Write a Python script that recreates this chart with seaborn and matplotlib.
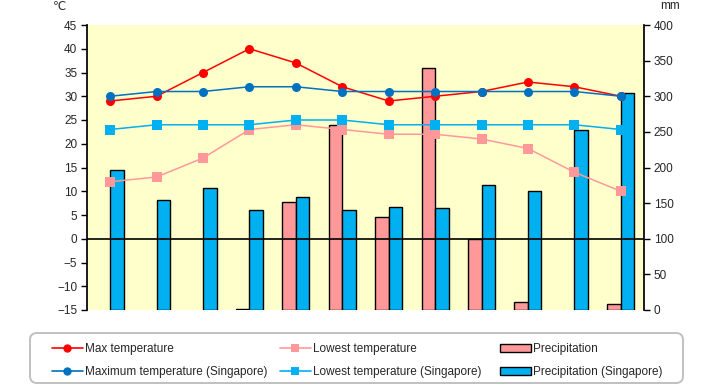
import matplotlib
matplotlib.use("Agg")
import matplotlib.pyplot as plt
import seaborn as sns
import pandas as pd
import numpy as np
from matplotlib.lines import Line2D
from matplotlib.patches import Patch, FancyBboxPatch
from matplotlib.transforms import IdentityTransform

months = ["Jan", "Feb", "Mar", "Apr", "May", "Jun", "Jul", "Aug", "Sep", "Oct", "Nov", "Dec"]
max_temp = [29, 30, 35, 40, 37, 32, 29, 30, 31, 33, 32, 30]
low_temp = [12, 13, 17, 23, 24, 23, 22, 22, 21, 19, 14, 10]
precip = [0, 0, 0, 1, 151, 259, 130, 339, 99, 11, 0, 8]
sg_max_temp = [30, 31, 31, 32, 32, 31, 31, 31, 31, 31, 31, 30]
sg_low_temp = [23, 24, 24, 24, 25, 25, 24, 24, 24, 24, 24, 23]
sg_precip = [197, 154, 171, 140, 158, 140, 144, 143, 176, 167, 252, 304]

sns.set_theme(style="white")
plt.rcParams["font.family"] = ["Liberation Sans", "DejaVu Sans"]
plt.rcParams["font.size"] = 8.5

fig = plt.figure(figsize=(7.2, 3.85), dpi=100)
ax_mm = fig.add_axes([87 / 720, 1 - 310 / 385, (644 - 87) / 720, (310 - 25) / 385])
ax_t = ax_mm.twinx()
ax_mm.yaxis.tick_right()
ax_mm.yaxis.set_label_position("right")
ax_t.yaxis.tick_left()
ax_t.yaxis.set_label_position("left")
ax_mm.set_zorder(0)
ax_t.set_zorder(1)
ax_t.patch.set_visible(False)
ax_mm.set_facecolor("#FFFFCC")

bar_df = pd.DataFrame({
    "month": months * 2,
    "value": precip + sg_precip,
    "series": ["Precipitation"] * 12 + ["Precipitation (Singapore)"] * 12,
})
sns.barplot(data=bar_df, x="month", y="value", hue="series", order=months,
            palette=["#FF9999", "#00B0F0"], width=0.58, edgecolor="black",
            linewidth=1.0, ax=ax_mm, legend=False, saturation=1)
for p in ax_mm.patches:
    if p.get_height() == 0:
        p.set_linewidth(0)

x = np.arange(12)
line_df = pd.DataFrame({
    "x": np.tile(x, 4),
    "value": max_temp + low_temp + sg_max_temp + sg_low_temp,
    "series": (["Max temperature"] * 12 + ["Lowest temperature"] * 12 +
               ["Maximum temperature (Singapore)"] * 12 + ["Lowest temperature (Singapore)"] * 12),
})
styles = {
    "Max temperature": ("#FF0000", "o"),
    "Lowest temperature": ("#FF9999", "s"),
    "Maximum temperature (Singapore)": ("#0070C0", "o"),
    "Lowest temperature (Singapore)": ("#00B0F0", "s"),
}
for name in ["Lowest temperature", "Lowest temperature (Singapore)", "Max temperature", "Maximum temperature (Singapore)"]:
    col, mk = styles[name]
    sub = line_df[line_df["series"] == name]
    sns.lineplot(data=sub, x="x", y="value", color=col, marker=mk, markersize=6.5,
                 markeredgewidth=0, linewidth=1.1, ax=ax_t, legend=False)

ax_t.axhline(0, color="black", linewidth=1.2, zorder=0.5)

ax_t.set_ylim(-15, 45)
ax_t.set_yticks(range(-15, 50, 5))
ax_mm.set_ylim(0, 400)
ax_mm.set_yticks(range(0, 450, 50))
ax_mm.set_xlim(-0.5, 11.5)
ax_t.set_xlim(-0.5, 11.5)
ax_mm.set_xticks(x)
ax_mm.set_xticklabels(months)
ax_t.set_xticks([])
for a in (ax_mm, ax_t):
    a.set_xlabel("")
    a.set_ylabel("")
    a.spines["top"].set_visible(False)
    a.spines["bottom"].set_visible(False)
    a.spines["left"].set_color("black")
    a.spines["right"].set_color("black")
    a.grid(False)
ax_mm.spines["left"].set_visible(False)
ax_t.spines["right"].set_visible(False)
ax_t.tick_params(axis="y", left=True, length=4, width=1, color="black", labelsize=8.5, pad=3)
ax_mm.tick_params(axis="y", right=True, length=4, width=1, color="black", labelsize=8.5, pad=3)
ax_mm.tick_params(axis="x", bottom=False, labelsize=8.5, pad=6)

fig.text(60 / 720, 1 - 7 / 385, "℃", ha="center", va="center", fontsize=8.5,
         family=["DejaVu Sans"])
fig.text(670 / 720, 1 - 6 / 385, "mm", ha="center", va="center", fontsize=8.5)

# legend frame
frame = FancyBboxPatch((30, 385 - 383), 653, 50, boxstyle="round,pad=0,rounding_size=7",
                       transform=IdentityTransform(), facecolor="white",
                       edgecolor="#C0C0C0", linewidth=1.4, figure=fig)
fig.patches.append(frame)

def line_h(col, mk):
    return Line2D([], [], color=col, marker=mk, markersize=6, markeredgewidth=0, lw=1.2)

groups = [
    (52, [line_h("#FF0000", "o"), line_h("#0070C0", "o")],
     ["Max temperature", "Maximum temperature (Singapore)"]),
    (280, [line_h("#FF9999", "s"), line_h("#00B0F0", "s")],
     ["Lowest temperature", "Lowest temperature (Singapore)"]),
    (500, [Patch(facecolor="#FF9999", edgecolor="black", linewidth=1),
           Patch(facecolor="#00B0F0", edgecolor="black", linewidth=1)],
     ["Precipitation", "Precipitation (Singapore)"]),
]
for gx, hs, ls in groups:
    fig.legend(hs, ls, loc="upper left", bbox_to_anchor=(gx / 720, 1 - 343 / 385),
               frameon=False, fontsize=8.5, handlelength=2.6, handleheight=0.6,
               handletextpad=0.2, labelspacing=0.95, borderpad=0, borderaxespad=0)

fig.savefig("out.png", dpi=100)
